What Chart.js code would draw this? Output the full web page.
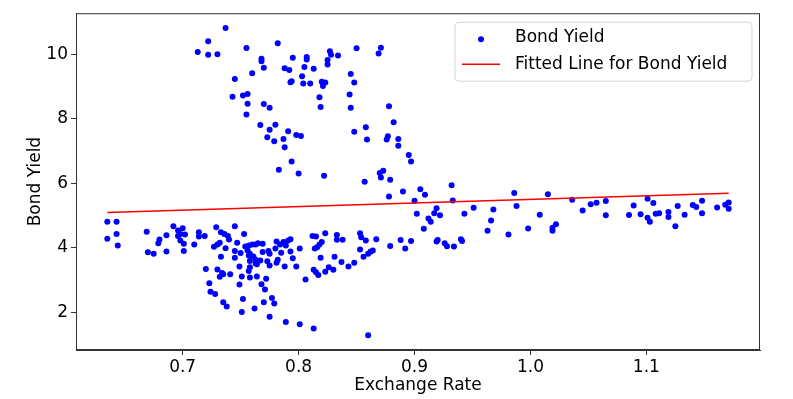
<!DOCTYPE html>
<html lang="en">
<head>
    <meta charset="UTF-8">
    <title>Bond Yield vs Exchange Rate</title>
    <style>
        body { margin: 0; background: #fff; }
        #wrap { width: 793px; height: 399px; }
    </style>
</head>
<body>

<div id="wrap">
    <canvas id="yieldChart" width="793" height="399"></canvas>
</div>

<script src="https://cdn.jsdelivr.net/npm/chart.js"></script>
<script>
    // values
    const exchangeRate = [
        0.737, 0.722, 0.713, 0.722, 0.730, 0.755, 0.768, 0.768, 0.770, 0.760,
        0.745, 0.743, 0.752, 0.756, 0.756, 0.770, 0.775, 0.755, 0.767, 0.775,
        0.773, 0.782, 0.795, 0.807, 0.807, 0.805, 0.813, 0.788, 0.792, 0.803,
        0.794, 0.793, 0.804, 0.810, 0.820, 0.823, 0.821, 0.827, 0.828, 0.825,
        0.825, 0.834, 0.850, 0.871, 0.869, 0.845, 0.848, 0.844, 0.818, 0.819,
        0.845, 0.878, 0.882, 0.780, 0.791, 0.779, 0.787, 0.798, 0.802, 0.788,
        0.848, 0.858, 0.859, 0.877, 0.876, 0.886, 0.886, 0.895, 0.897, 0.794,
        0.783, 0.800, 0.822, 0.857, 0.870, 0.873, 0.871, 0.879,
        0.878, 0.890, 0.905, 0.909, 0.932, 0.933, 0.900, 0.902, 0.919, 0.917,
        0.922, 0.912, 0.914, 0.908, 0.919, 0.920, 0.926, 0.928, 0.934, 0.940,
        0.941, 0.879, 0.888, 0.892, 0.897, 0.867, 0.853, 0.854, 0.858, 0.853,
        0.862, 0.864, 0.860, 0.856, 0.848, 0.843, 0.837, 0.831, 0.833, 0.833,
        0.838, 0.823, 0.812, 0.815, 0.820, 0.818, 0.816, 0.814, 0.819, 0.801,
        0.781, 0.784, 0.787, 0.789, 0.791, 0.793, 0.780, 0.793, 0.795, 0.785,
        0.774, 0.775, 0.769, 0.769, 0.773, 0.775, 0.782, 0.781, 0.788, 0.798,
        0.767, 0.813, 0.815, 0.817, 0.823, 0.826, 0.830, 0.806, 0.772, 0.768,
        0.771, 0.777, 0.779, 0.770, 0.775, 0.789, 0.801, 0.813, 0.860,
        0.635, 0.643, 0.635, 0.643, 0.644, 0.669, 0.670, 0.675, 0.680, 0.679,
        0.686, 0.686, 0.692, 0.696, 0.700, 0.698, 0.702, 0.696, 0.698, 0.701,
        0.701, 0.710, 0.714, 0.714, 0.719, 0.729, 0.733, 0.736, 0.739, 0.740,
        0.745, 0.753, 0.747, 0.727, 0.730, 0.732, 0.733, 0.737, 0.745, 0.745,
        0.750, 0.754, 0.757, 0.760, 0.763, 0.765, 0.756, 0.758, 0.761, 0.758,
        0.763, 0.764, 0.757, 0.763, 0.758, 0.757, 0.749, 0.720, 0.730, 0.734,
        0.732, 0.735, 0.741, 0.751, 0.758, 0.764, 0.723, 0.749, 0.724, 0.728,
        0.752, 0.735, 0.738, 0.762, 0.751,
        0.943, 0.951, 0.963, 0.966, 0.968, 0.981, 0.986, 0.988, 0.998, 1.008,
        1.015, 1.019, 1.019, 1.022, 1.036, 1.045, 1.052, 1.057, 1.065, 1.065,
        1.085, 1.089, 1.095, 1.101, 1.106, 1.101, 1.103, 1.108, 1.111, 1.119,
        1.119, 1.125, 1.127, 1.133, 1.140, 1.143, 1.148, 1.148, 1.161, 1.168,
        1.171, 1.171
    ];
    const bondYield = [
        10.82, 10.41, 10.08, 9.99, 10.01, 10.20, 9.87, 9.79, 9.59, 9.42,
        9.24, 8.69, 8.73, 8.77, 8.47, 8.46, 8.35, 8.14, 7.81, 7.66,
        7.43, 10.35, 9.90, 9.92, 9.84, 9.61, 9.56, 9.57, 9.52, 9.32,
        9.17, 9.14, 9.10, 9.10, 9.15, 9.13, 9.02, 10.10, 9.99, 9.83,
        9.69, 9.97, 10.19, 10.21, 10.03, 9.39, 9.13, 8.76, 8.67, 8.37,
        8.35, 8.39, 7.90, 7.82, 7.62, 7.31, 7.38, 7.50, 7.47, 7.12,
        7.60, 7.74, 7.36, 7.46, 7.36, 7.38, 7.17, 6.88, 6.68, 6.68,
        6.42, 6.31, 6.24, 6.05, 6.32, 6.39, 6.18, 6.11,
        5.59, 5.75, 5.82, 5.65, 5.94, 5.47, 5.46, 5.06, 5.23, 5.07,
        5.01, 4.91, 4.81, 4.59, 4.20, 4.24, 4.14, 4.05, 4.04, 4.27,
        4.21, 4.06, 4.24, 3.98, 4.21, 4.27, 4.45, 4.33, 4.23, 3.95,
        3.88, 3.92, 3.82, 3.72, 3.54, 3.42, 3.56, 3.72, 4.40, 4.25,
        4.25, 4.45, 4.37, 4.35, 4.18, 4.10, 4.02, 3.98, 3.69, 3.98,
        4.20, 4.10, 4.18, 4.07, 4.23, 4.27, 3.98, 3.89, 3.68, 3.85,
        3.90, 3.82, 3.87, 4.13, 3.58, 3.45, 3.63, 3.54, 3.42, 3.42,
        3.61, 3.32, 3.24, 3.16, 3.26, 3.40, 3.32, 3.02, 3.04, 2.87,
        2.71, 2.44, 2.27, 2.31, 1.86, 1.70, 1.63, 1.50, 1.29,
        4.81, 4.81, 4.28, 4.43, 4.07, 4.50, 3.86, 3.82, 4.26, 4.14,
        4.39, 3.89, 4.67, 4.54, 4.61, 4.43, 4.41, 4.37, 4.23, 4.13,
        3.90, 4.10, 4.48, 4.35, 4.37, 4.64, 4.48, 4.43, 4.37, 4.26,
        4.67, 4.43, 4.16, 4.03, 4.10, 4.16, 3.72, 3.99, 3.90, 3.69,
        3.84, 4.04, 4.07, 4.10, 4.10, 4.14, 3.92, 3.82, 3.73, 3.59,
        3.63, 3.49, 3.76, 3.51, 3.40, 3.28, 3.42, 3.34, 3.33, 3.22,
        3.10, 3.18, 3.18, 3.11, 3.08, 3.11, 2.90, 2.86, 2.64, 2.57,
        2.41, 2.31, 2.18, 2.12, 2.01,
        5.06, 5.24, 4.53, 4.85, 5.19, 4.41, 5.70, 5.30, 4.60, 5.03,
        5.66, 4.62, 4.53, 4.73, 5.49, 5.16, 5.35, 5.40, 5.45, 5.01,
        5.02, 5.31, 5.04, 5.52, 5.39, 4.93, 4.81, 5.06, 5.07, 5.11,
        4.96, 4.67, 5.30, 5.03, 5.33, 5.27, 5.46, 5.07, 5.25, 5.34,
        5.21, 5.41
    ];

    // fitted line end points
    const fitX = [0.635, 1.171];
    const fitY = [5.10, 5.69];

    const xTicks = [0.7, 0.8, 0.9, 1.0, 1.1];
    const yTicks = [2, 4, 6, 8, 10];

    const font = 'DejaVu Sans';
    const axisColor = '#333';

    const points = exchangeRate.map((x, i) => ({ x: x, y: bondYield[i] }));
    const fitPoints = fitX.map((x, i) => ({ x: x, y: fitY[i] }));

    // matplotlib style box + legend in the upper right
    const framePlugin = {
        id: 'frame',
        afterDraw(chart) {
            const c = chart.ctx;
            const a = chart.chartArea;
            c.save();
            c.strokeStyle = axisColor;
            c.lineWidth = 1;
            c.strokeRect(a.left + 0.5, a.top + 0.5, a.right - a.left - 1, a.bottom - a.top - 1);

            // legend box
            const bx = a.left + 379, by = a.top + 9, bw = 297, bh = 59, r = 4;
            c.beginPath();
            c.moveTo(bx + r, by);
            c.arcTo(bx + bw, by, bx + bw, by + bh, r);
            c.arcTo(bx + bw, by + bh, bx, by + bh, r);
            c.arcTo(bx, by + bh, bx, by, r);
            c.arcTo(bx, by, bx + bw, by, r);
            c.closePath();
            c.fillStyle = 'rgba(255,255,255,0.8)';
            c.fill();
            c.strokeStyle = '#d6d6d6';
            c.stroke();

            // entries
            c.fillStyle = '#0000ff';
            c.beginPath();
            c.arc(bx + 26, by + 17, 3, 0, Math.PI * 2);
            c.fill();

            c.strokeStyle = '#ff0000';
            c.lineWidth = 1.5;
            c.beginPath();
            c.moveTo(bx + 7, by + 42);
            c.lineTo(bx + 45, by + 42);
            c.stroke();

            c.fillStyle = '#000';
            c.font = '17px "' + font + '"';
            c.textBaseline = 'middle';
            c.fillText('Bond Yield', bx + 60, by + 15);
            c.fillText('Fitted Line for Bond Yield', bx + 60, by + 42);
            c.restore();
        }
    };

    const ctx = document.getElementById('yieldChart').getContext('2d');
    const yieldChart = new Chart(ctx, {
        type: 'scatter',
        data: {
            datasets: [{
                label: 'Fitted Line for Bond Yield',
                data: fitPoints,
                showLine: true,
                borderColor: '#ff0000',
                borderWidth: 1.5,
                pointRadius: 0,
                fill: false,
                order: 0
            }, {
                label: 'Bond Yield',
                data: points,
                backgroundColor: '#0000ff',
                borderWidth: 0,
                pointRadius: 3,
                order: 1
            }]
        },
        options: {
            responsive: false,
            animation: false,
            devicePixelRatio: 1,
            layout: { padding: { left: 0, top: 12, right: 33, bottom: 0 } },
            plugins: {
                legend: { display: false },
                tooltip: { enabled: false }
            },
            scales: {
                x: {
                    type: 'linear',
                    min: 0.608,
                    max: 1.198,
                    afterFit: s => { s.height = 49; },
                    afterBuildTicks: s => { s.ticks = xTicks.map(v => ({ value: v })); },
                    grid: { drawOnChartArea: false, tickLength: 5, color: axisColor },
                    border: { color: axisColor },
                    ticks: {
                        color: '#000',
                        padding: 2,
                        font: { family: font, size: 17 },
                        callback: v => v.toFixed(1)
                    },
                    title: {
                        display: true,
                        text: 'Exchange Rate',
                        color: '#000',
                        font: { family: font, size: 17 },
                        padding: { top: 0, bottom: 3 }
                    }
                },
                y: {
                    type: 'linear',
                    min: 0.83,
                    max: 11.28,
                    afterFit: s => { s.width = 76; },
                    afterBuildTicks: s => { s.ticks = yTicks.map(v => ({ value: v })); },
                    grid: { drawOnChartArea: false, tickLength: 5, color: axisColor },
                    border: { color: axisColor },
                    ticks: {
                        color: '#000',
                        padding: 3,
                        font: { family: font, size: 17 }
                    },
                    title: {
                        display: true,
                        text: 'Bond Yield',
                        color: '#000',
                        font: { family: font, size: 17 },
                        padding: { top: 25, bottom: 0 }
                    }
                }
            }
        },
        plugins: [framePlugin]
    });
</script>

</body>
</html>
